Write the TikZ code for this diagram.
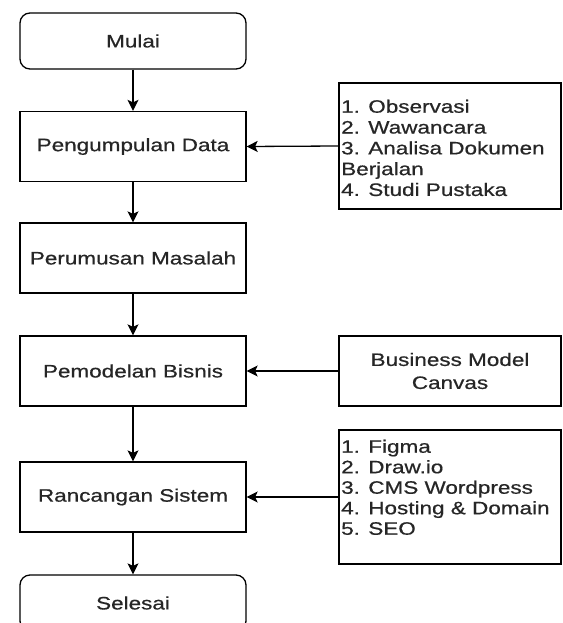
\documentclass[tikz,border=0pt]{standalone}
\usepackage{fontspec}
\setmainfont[FakeStretch=1.25, FakeBold=0.6]{Liberation Sans}
\usetikzlibrary{arrows.meta}

\tikzset{
  base/.style={draw=black, line width=1.3pt, fill=white, inner sep=0pt,
    font=\fontsize{18}{21}\selectfont, text=black!85},
  stepbox/.style={base, minimum width=226pt, minimum height=70pt},
  termbox/.style={base, rounded corners=10pt, minimum width=226pt, minimum height=56pt},
  sidebox/.style={base, minimum width=222pt},
  listtext/.style={anchor=north west, inner sep=0pt, align=left, text=black!85},
  flow/.style={line width=1.3pt, -{Stealth[length=11pt,width=11pt,inset=2.5pt]}}
}

\begin{document}
\begin{tikzpicture}[x=1pt, y=-1pt]
  \clip (0,0) rectangle (562,623);
  \fill[white] (0,0) rectangle (562,623);

  % main flow
  \node[termbox] (mulai) at (133,41) {Mulai};
  \node[stepbox] (kumpul) at (133,146.5) {Pengumpulan Data};
  \node[stepbox] (rumus) at (133,258) {Perumusan Masalah};
  \node[stepbox] (model) at (133,371) {Pemodelan Bisnis};
  \node[stepbox] (rancang) at (133,497) {Rancangan Sistem};
  \node[termbox] (selesai) at (133,603) {Selesai};

  % side inputs
  \node[sidebox, minimum height=126pt] (metode) at (450,146) {};
  \node[listtext, font=\fontsize{18}{20.8}\selectfont] (metodetxt)
    at (341,99.5) {1. Observasi\\2. Wawancara\\3. Analisa Dokumen\\Berjalan\\4. Studi Pustaka};

  \node[sidebox, minimum height=70pt, align=center,
        font=\fontsize{18}{23}\selectfont] (bmc) at (450,371) {Business Model\\Canvas};

  \node[sidebox, minimum height=134pt] (alat) at (450,497) {};
  \node[listtext, font=\fontsize{18}{20.5}\selectfont] (alattxt)
    at (341,439.5) {1. Figma\\2. Draw.io\\3. CMS Wordpress\\4. Hosting \& Domain\\5. SEO};

  % connectors
  \draw[flow] (mulai) -- (kumpul);
  \draw[flow] (kumpul) -- (rumus);
  \draw[flow] (rumus) -- (model);
  \draw[flow] (model) -- (rancang);
  \draw[flow] (rancang) -- (selesai);
  \draw[flow] (metode.west) -- (kumpul.east);
  \draw[flow] (bmc.west) -- (model.east);
  \draw[flow] (alat.west) -- (rancang.east);
\end{tikzpicture}
\end{document}
